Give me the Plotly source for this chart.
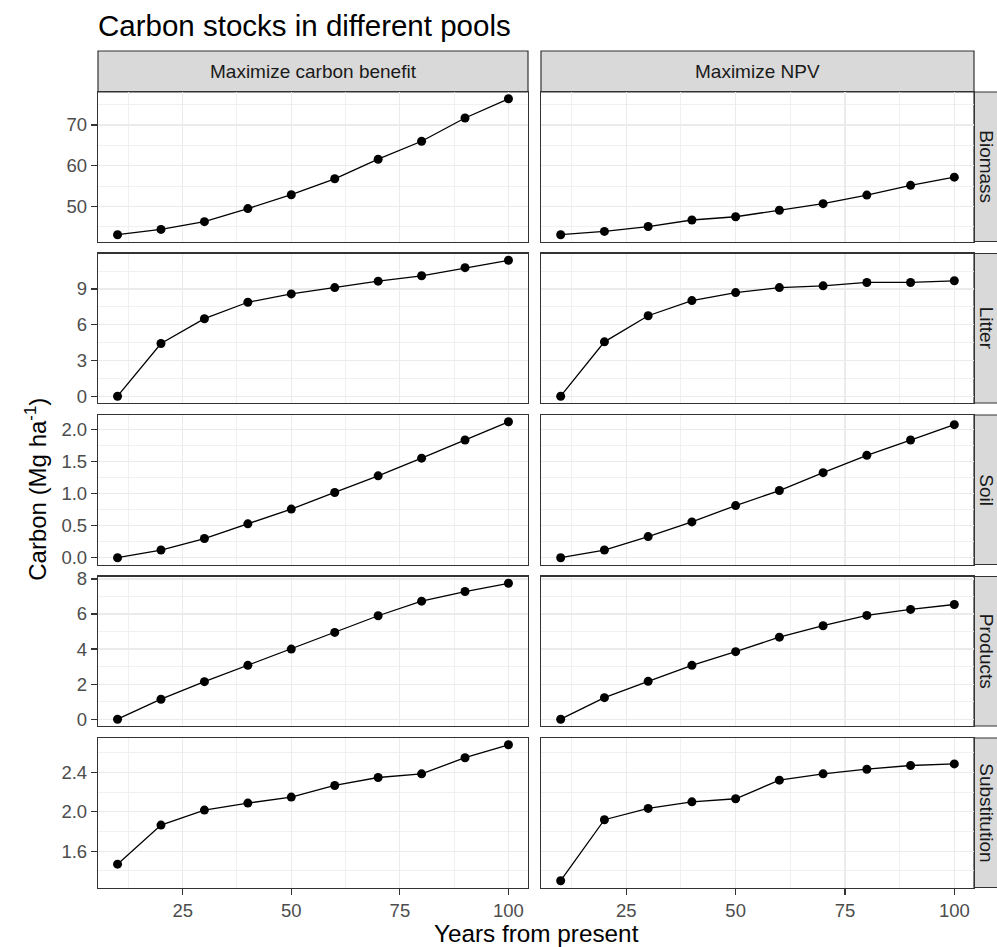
import plotly.graph_objects as go

# ---------------- data ----------------
years = [10, 20, 30, 40, 50, 60, 70, 80, 90, 100]
scenarios = ["Maximize carbon benefit", "Maximize NPV"]
pools = ["Biomass", "Litter", "Soil", "Products", "Substitution"]

biomass_carbon = [43.1, 44.4, 46.3, 49.5, 52.9, 56.8, 61.6, 66.0, 71.7, 76.4]
biomass_npv = [43.1, 43.9, 45.1, 46.7, 47.5, 49.1, 50.7, 52.8, 55.2, 57.2]

litter_carbon = [0.0, 4.42, 6.5, 7.88, 8.58, 9.11, 9.65, 10.1, 10.78, 11.4]
litter_npv = [0.0, 4.56, 6.75, 8.02, 8.69, 9.11, 9.26, 9.54, 9.54, 9.68]

soil_carbon = [0.0, 0.12, 0.30, 0.53, 0.76, 1.02, 1.28, 1.556, 1.84, 2.125]
soil_npv = [0.0, 0.12, 0.33, 0.56, 0.815, 1.05, 1.33, 1.60, 1.84, 2.08]

products_carbon = [0.0, 1.14, 2.14, 3.07, 4.0, 4.95, 5.90, 6.73, 7.28, 7.75]
products_npv = [0.0, 1.23, 2.16, 3.07, 3.85, 4.68, 5.33, 5.92, 6.26, 6.54]

substitution_carbon = [1.468, 1.865, 2.017, 2.088, 2.149, 2.267, 2.348, 2.385, 2.549, 2.68]
substitution_npv = [1.30, 1.919, 2.034, 2.101, 2.132, 2.321, 2.385, 2.432, 2.470, 2.486]

series = {
    "Biomass": (biomass_carbon, biomass_npv),
    "Litter": (litter_carbon, litter_npv),
    "Soil": (soil_carbon, soil_npv),
    "Products": (products_carbon, products_npv),
    "Substitution": (substitution_carbon, substitution_npv),
}

x_ticks = [25, 50, 75, 100]
y_tick_step = {"Biomass": 10, "Litter": 3, "Soil": 0.5, "Products": 2, "Substitution": 0.4}
y_tick_start = {"Biomass": 0, "Litter": 0, "Soil": 0, "Products": 0, "Substitution": 0.4}
y_tick_format = {"Biomass": "d", "Litter": "d", "Soil": ".1f", "Products": "d", "Substitution": ".1f"}

# ---------------- layout geometry (target page pixels) ----------------
W, H = 997, 947
FONT = "Liberation Sans, Arial, sans-serif"
BORDER = "#333333"
GRID = "#EBEBEB"
MINOR_GRID = "#EEEEEE"

col_px = [(98, 528), (541, 974)]
row_top0, row_step, row_h = 92, 161.5, 149.5
strip_top = 51
right_strip = (974, 1010)


def fx(p):
    return p / W


def fy(p):
    return 1 - p / H


fig = go.Figure()

xmin, xmax = min(years), max(years)
xpad = 0.05 * (xmax - xmin)
xrange = [xmin - xpad, xmax + xpad]

shapes = []
annotations = []
layout_axes = {}

idx = 0
for r, pool in enumerate(pools):
    vals_all = series[pool][0] + series[pool][1]
    lo, hi = min(vals_all), max(vals_all)
    pad = 0.05 * (hi - lo)
    yrange = [lo - pad, hi + pad]
    top = row_top0 + r * row_step
    bot = top + row_h
    for c in range(2):
        idx += 1
        xa = "x" if idx == 1 else f"x{idx}"
        ya = "y" if idx == 1 else f"y{idx}"
        fig.add_trace(go.Scatter(
            x=years, y=series[pool][c], mode="lines+markers",
            line=dict(color="black", width=1.3),
            marker=dict(color="black", size=9),
            xaxis=xa, yaxis=ya, showlegend=False, cliponaxis=False,
        ))
        bottom_row = (r == len(pools) - 1)
        left_col = (c == 0)
        layout_axes["xaxis" if idx == 1 else f"xaxis{idx}"] = dict(
            domain=[fx(col_px[c][0]), fx(col_px[c][1])],
            anchor=ya, range=xrange,
            tickmode="array", tickvals=x_ticks,
            showticklabels=bottom_row,
            ticks="outside" if bottom_row else "",
            ticklen=6, tickwidth=1.2, tickcolor=BORDER,
            tickfont=dict(family=FONT, size=18.5, color="#4D4D4D"),
            showgrid=True, gridcolor=GRID, gridwidth=1.2,
            minor=dict(dtick=12.5, tick0=0, showgrid=True, gridcolor=MINOR_GRID, gridwidth=0.9, ticks=""),
            zeroline=False, showline=True, mirror=True,
            linecolor=BORDER, linewidth=1.2, automargin=False,
        )
        step = y_tick_step[pool]
        layout_axes["yaxis" if idx == 1 else f"yaxis{idx}"] = dict(
            domain=[fy(bot), fy(top)],
            anchor=xa, range=yrange,
            tickmode="linear", dtick=step, tick0=y_tick_start[pool],
            tickformat=y_tick_format[pool],
            showticklabels=left_col,
            ticks="outside" if left_col else "",
            ticklen=6, tickwidth=1.2, tickcolor=BORDER,
            tickfont=dict(family=FONT, size=18.5, color="#4D4D4D"),
            showgrid=True, gridcolor=GRID, gridwidth=1.2,
            minor=dict(dtick=step / 2, tick0=y_tick_start[pool], showgrid=True,
                       gridcolor=MINOR_GRID, gridwidth=0.9, ticks=""),
            zeroline=False, showline=True, mirror=True,
            linecolor=BORDER, linewidth=1.2, automargin=False,
        )
    # right strip
    shapes.append(dict(type="rect", xref="paper", yref="paper",
                       x0=fx(right_strip[0]), x1=fx(right_strip[1]),
                       y0=fy(bot), y1=fy(top),
                       fillcolor="#D9D9D9", line=dict(color=BORDER, width=1.2), layer="below"))
    annotations.append(dict(text=pool, xref="paper", yref="paper",
                            x=fx(986.5), y=fy((top + bot) / 2), textangle=90,
                            showarrow=False, xanchor="center", yanchor="middle",
                            font=dict(family=FONT, size=19, color="#1A1A1A")))

# top strips
for c, name in enumerate(scenarios):
    shapes.append(dict(type="rect", xref="paper", yref="paper",
                       x0=fx(col_px[c][0]), x1=fx(col_px[c][1]),
                       y0=fy(row_top0), y1=fy(strip_top),
                       fillcolor="#D9D9D9", line=dict(color=BORDER, width=1.2), layer="below"))
    annotations.append(dict(text=name, xref="paper", yref="paper",
                            x=fx((col_px[c][0] + col_px[c][1]) / 2), y=fy((strip_top + row_top0) / 2),
                            showarrow=False, xanchor="center", yanchor="middle",
                            font=dict(family=FONT, size=19, color="#1A1A1A")))

# title and axis titles
annotations.append(dict(text="Carbon stocks in different pools", xref="paper", yref="paper",
                        x=fx(96), y=fy(25), xanchor="left", yanchor="middle", showarrow=False,
                        font=dict(family=FONT, size=29.5, color="black")))
annotations.append(dict(text="Years from present", xref="paper", yref="paper",
                        x=fx((col_px[0][0] + col_px[1][1]) / 2), y=fy(933), xanchor="center", yanchor="middle",
                        showarrow=False, font=dict(family=FONT, size=24.3, color="black")))
annotations.append(dict(text="Carbon (Mg ha<sup>-1</sup>)", xref="paper", yref="paper",
                        x=fx(36), y=fy((row_top0 + row_top0 + 4 * row_step + row_h) / 2),
                        xanchor="center", yanchor="middle", textangle=-90,
                        showarrow=False, font=dict(family=FONT, size=24, color="black")))

fig.update_layout(
    width=W, height=H,
    margin=dict(l=0, r=0, t=0, b=0, pad=0, autoexpand=False),
    paper_bgcolor="white", plot_bgcolor="white",
    shapes=shapes, annotations=annotations,
    font=dict(family=FONT),
    hovermode=False,
    **layout_axes,
)

fig.write_html(
    "out.html",
    config={"displayModeBar": False, "staticPlot": True},
    post_script="document.body.style.margin='0';document.body.style.overflow='hidden';",
)
